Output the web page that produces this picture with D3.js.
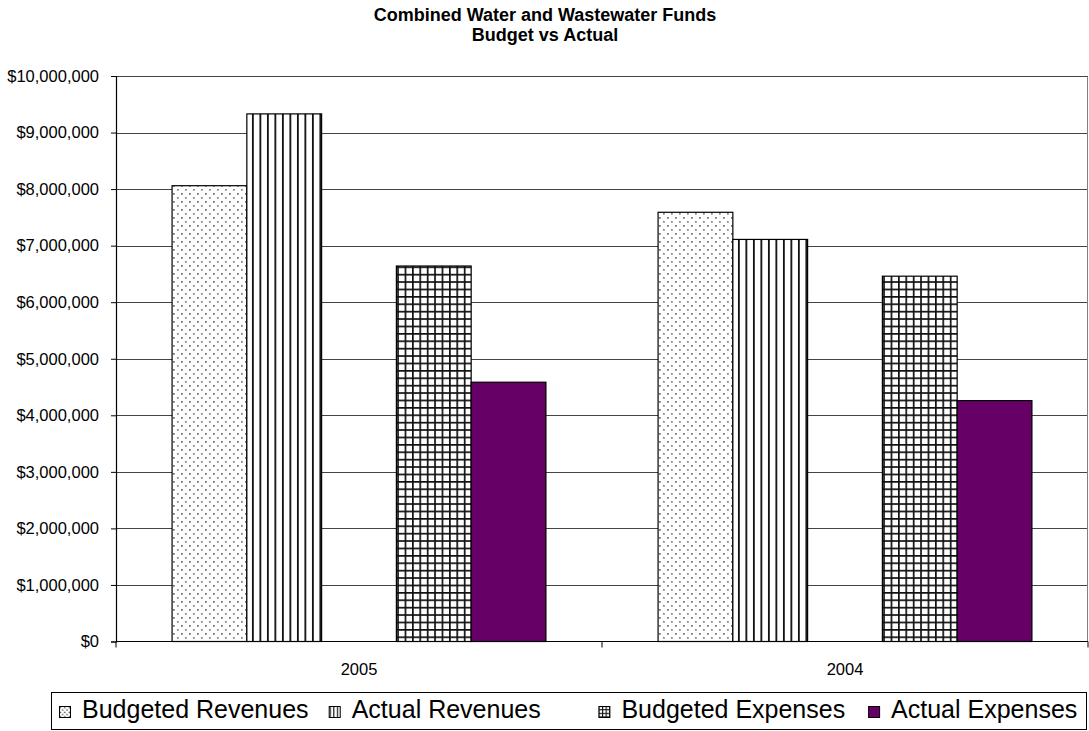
<!DOCTYPE html>
<html>
<head>
<meta charset="utf-8">
<script src="https://cdn.jsdelivr.net/npm/d3@7/dist/d3.min.js"></script>
<style>
  html, body { margin: 0; padding: 0; background: #fff; }
  svg { display: block; font-family: "Liberation Sans", Arial, sans-serif; }
</style>
</head>
<body>
<svg id="chart" width="1089" height="731"></svg>
<script>
// ---- Data ----
const titleLines = ["Combined Water and Wastewater Funds", "Budget vs Actual"];
const categories = ["2005", "2004"];
const seriesNames = ["Budgeted Revenues", "Actual Revenues", "Budgeted Expenses", "Actual Expenses"];
const slots = ["Budgeted Revenues", "Actual Revenues", "(blank)", "Budgeted Expenses", "Actual Expenses"];
const budgetedRevenues = [8060000, 7590000];
const actualRevenues   = [9330000, 7110000];
const budgetedExpenses = [6640000, 6460000];
const actualExpenses   = [4585000, 4260000];
const yTickValues = [0, 1000000, 2000000, 3000000, 4000000, 5000000, 6000000, 7000000, 8000000, 9000000, 10000000];

const seriesValues = {
  "Budgeted Revenues": budgetedRevenues,
  "Actual Revenues": actualRevenues,
  "Budgeted Expenses": budgetedExpenses,
  "Actual Expenses": actualExpenses
};
const seriesFill = {
  "Budgeted Revenues": "url(#dots)",
  "Actual Revenues": "url(#vlines)",
  "Budgeted Expenses": "url(#grid)",
  "Actual Expenses": "#660066"
};
const legendFill = {
  "Budgeted Revenues": "url(#dotsS)",
  "Actual Revenues": "url(#vlinesS)",
  "Budgeted Expenses": "url(#gridS)",
  "Actual Expenses": "#660066"
};

// ---- Layout ----
const svg = d3.select("#chart");
const plot = { left: 116, right: 1088, top: 76, bottom: 641.5 };

const x0 = d3.scaleBand().domain(categories).range([plot.left, plot.right]).paddingInner(0).paddingOuter(0);
const x1 = d3.scaleBand().domain(slots).range([0, x0.bandwidth()]).paddingInner(0).paddingOuter(0.75);
const y = d3.scaleLinear().domain([0, 10000000]).range([plot.bottom, plot.top]);

// ---- Patterns ----
const defs = svg.append("defs");
function dotsPattern(id, s, r) {
  const p = defs.append("pattern").attr("id", id).attr("patternUnits", "userSpaceOnUse")
    .attr("width", s).attr("height", s);
  p.append("rect").attr("width", s).attr("height", s).attr("fill", "#fff");
  p.append("rect").attr("x", s * 0.15).attr("y", s * 0.15).attr("width", r).attr("height", r).attr("fill", "#222");
  p.append("rect").attr("x", s * 0.65).attr("y", s * 0.65).attr("width", r).attr("height", r).attr("fill", "#444");
}
function vlinesPattern(id, s, w) {
  const p = defs.append("pattern").attr("id", id).attr("patternUnits", "userSpaceOnUse")
    .attr("width", s).attr("height", 10);
  p.append("rect").attr("width", s).attr("height", 10).attr("fill", "#fff");
  p.append("rect").attr("x", 1).attr("y", 0).attr("width", w).attr("height", 10).attr("fill", "#000");
}
function gridPattern(id, s, w) {
  const p = defs.append("pattern").attr("id", id).attr("patternUnits", "userSpaceOnUse")
    .attr("width", s).attr("height", s);
  p.append("rect").attr("width", s).attr("height", s).attr("fill", "#fff");
  p.append("rect").attr("x", 0).attr("y", 0).attr("width", w).attr("height", s).attr("fill", "#111");
  p.append("rect").attr("x", 0).attr("y", 0).attr("width", s).attr("height", w).attr("fill", "#111");
}
dotsPattern("dots", 8, 1.4);
vlinesPattern("vlines", 7.5, 1.7);
gridPattern("grid", 7.4, 1.7);
dotsPattern("dotsS", 4.5, 1.3);
vlinesPattern("vlinesS", 3.6, 1.1);
gridPattern("gridS", 3.6, 1.1);

// ---- Title ----
svg.append("g").selectAll("text").data(titleLines).join("text")
  .attr("x", 545).attr("y", (d, i) => 21 + i * 20)
  .attr("text-anchor", "middle")
  .attr("font-weight", "bold").attr("font-size", 18).attr("fill", "#000")
  .text(d => d);

// ---- Gridlines ----
svg.append("g").selectAll("line").data(yTickValues.filter(v => v > 0)).join("line")
  .attr("x1", plot.left).attr("x2", plot.right)
  .attr("y1", d => Math.round(y(d)) + 0.5).attr("y2", d => Math.round(y(d)) + 0.5)
  .attr("stroke", "#444").attr("stroke-width", 1);

// right border of plot area
svg.append("line")
  .attr("x1", plot.right - 0.5).attr("x2", plot.right - 0.5)
  .attr("y1", Math.round(plot.top) + 0.5).attr("y2", plot.bottom)
  .attr("stroke", "#808080").attr("stroke-width", 1);

// ---- Bars ----
const groups = svg.append("g").selectAll("g").data(categories).join("g")
  .attr("transform", d => `translate(${x0(d)},0)`);
groups.selectAll("rect")
  .data((c, ci) => seriesNames.map(s => ({ s, v: seriesValues[s][ci] })))
  .join("rect")
  .attr("x", d => x1(d.s))
  .attr("y", d => y(d.v))
  .attr("width", x1.bandwidth())
  .attr("height", d => y(0) - y(d.v))
  .attr("fill", d => seriesFill[d.s])
  .attr("stroke", "#000").attr("stroke-width", 1.2);

// ---- Y axis ----
const yAxis = d3.axisLeft(y).tickValues(yTickValues).tickSize(5).tickPadding(12)
  .tickFormat(d => "$" + d3.format(",")(d));
const yg = svg.append("g").attr("transform", `translate(${plot.left},0)`).call(yAxis);
yg.select(".domain").attr("stroke", "#000").attr("stroke-width", 1.2);
yg.selectAll(".tick line").attr("stroke", "#000");
yg.selectAll(".tick text").attr("font-size", 16.5).attr("font-family", "Liberation Sans, Arial, sans-serif").attr("fill", "#000");

// ---- X axis ----
svg.append("line")
  .attr("x1", plot.left).attr("x2", plot.right)
  .attr("y1", plot.bottom).attr("y2", plot.bottom)
  .attr("stroke", "#000").attr("stroke-width", 1.2);
const boundaries = [plot.left].concat(categories.map(c => x0(c) + x0.bandwidth()));
svg.append("g").selectAll("line").data(boundaries).join("line")
  .attr("x1", d => d).attr("x2", d => d)
  .attr("y1", plot.bottom).attr("y2", plot.bottom + 6)
  .attr("stroke", "#000").attr("stroke-width", 1);
svg.append("g").selectAll("text").data(categories).join("text")
  .attr("x", d => x0(d) + x0.bandwidth() / 2)
  .attr("y", 675)
  .attr("text-anchor", "middle")
  .attr("font-size", 16.5).attr("fill", "#000")
  .text(d => d);

// ---- Legend ----
const legend = svg.append("g");
legend.append("rect")
  .attr("x", 51.5).attr("y", 692.5).attr("width", 1035).attr("height", 37)
  .attr("fill", "#fff").attr("stroke", "#000").attr("stroke-width", 1);
const items = legend.selectAll("g.item").data(seriesNames).join("g")
  .attr("class", "item")
  .attr("transform", (d, i) => `translate(${59 + i * 269.7},0)`);
items.append("rect")
  .attr("x", 0.5).attr("y", 706.5).attr("width", 11).attr("height", 11)
  .attr("fill", d => legendFill[d]).attr("stroke", "#000").attr("stroke-width", 1);
items.append("text")
  .attr("x", 23).attr("y", 718)
  .attr("font-size", 25).attr("fill", "#000")
  .text(d => d);
</script>
</body>
</html>
